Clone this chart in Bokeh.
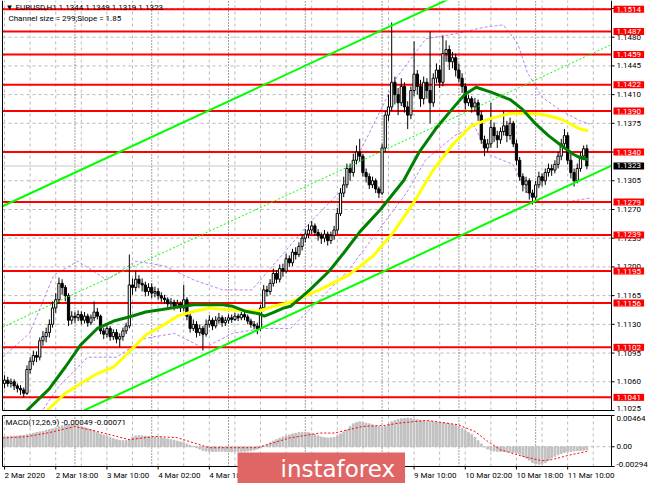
from bokeh.plotting import figure
from bokeh.layouts import column
from bokeh.models import Range1d, Label, ColumnDataSource
from bokeh.embed import file_html
from bokeh.resources import INLINE

FONT = "Roboto"

# ---------------- data ----------------
first_bar = 2
first_open = 1.1058
closes = [
    1.1062,1.1058,1.1060,1.1055,1.1052,1.1050,1.1046,1.1075,1.1085,1.1092,1.1090,1.1110,1.1115,1.1120,1.1130,1.1150,1.1160,1.1180,1.1175,1.1165,1.1135,1.1140,
    1.1138,1.1142,1.1135,1.1140,1.1132,1.1138,1.1145,1.1140,1.1122,1.1118,1.1125,1.1115,1.1120,1.1112,1.1115,1.1122,1.1128,1.1178,1.1175,1.1185,1.1180,1.1178,1.1170,1.1175,
    1.1168,1.1170,1.1165,1.1162,1.1160,1.1155,1.1157,1.1152,1.1155,1.1150,1.1160,1.1140,1.1125,1.1130,1.1120,1.1125,1.1118,1.1130,1.1135,1.1128,1.1135,1.1138,1.1132,1.1135,
    1.1138,1.1136,1.1140,1.1138,1.1142,1.1139,1.1134,1.1130,1.1128,1.1125,1.1150,1.1172,1.1170,1.1180,1.1192,1.1185,1.1198,1.1195,1.1210,1.1205,1.1218,1.1215,1.1225,1.1235,
    1.1240,1.1245,1.1250,1.1242,1.1238,1.1235,1.1240,1.1232,1.1238,1.1245,1.1265,1.1290,1.1300,1.1320,1.1315,1.1330,1.1340,1.1335,1.1315,1.1310,1.1300,1.1305,1.1295,1.1290,
    1.1345,1.1385,1.1395,1.1425,1.1410,1.1400,1.1420,1.1395,1.1385,1.1415,1.1435,1.1420,1.1405,1.1425,1.1415,1.1400,1.1430,1.1440,1.1425,1.1460,1.1465,1.1450,1.1455,1.1440,
    1.1430,1.1420,1.1400,1.1405,1.1395,1.1400,1.1385,1.1355,1.1345,1.1350,1.1370,1.1360,1.1355,1.1365,1.1372,1.1360,1.1375,1.1350,1.1330,1.1310,1.1300,1.1305,1.1290,1.1285,
    1.1300,1.1310,1.1305,1.1315,1.1320,1.1318,1.1325,1.1335,1.1350,1.1360,1.1330,1.1315,1.1305,1.1320,1.1335,1.1344,1.1323,
]
highs = [
    1.1068,1.1066,1.1064,1.1063,1.1058,1.1056,1.1053,1.1080,1.1090,1.1098,1.1097,1.1114,1.1122,1.1126,1.1136,1.1158,1.1168,1.1187,1.1185,1.1178,1.1168,1.1146,
    1.1145,1.1147,1.1146,1.1145,1.1143,1.1142,1.1158,1.1150,1.1142,1.1126,1.1130,1.1128,1.1124,1.1124,1.1119,1.1126,1.1132,1.1215,1.1186,1.1195,1.1190,1.1186,1.1182,1.1180,
    1.1180,1.1176,1.1174,1.1169,1.1166,1.1163,1.1162,1.1160,1.1160,1.1158,1.1178,1.1163,1.1144,1.1136,1.1134,1.1130,1.1128,1.1136,1.1141,1.1138,1.1140,1.1144,1.1141,1.1139,
    1.1142,1.1142,1.1144,1.1143,1.1146,1.1145,1.1142,1.1137,1.1134,1.1132,1.1154,1.1178,1.1177,1.1185,1.1198,1.1196,1.1203,1.1204,1.1216,1.1214,1.1222,1.1224,1.1230,1.1240,
    1.1246,1.1252,1.1256,1.1253,1.1246,1.1242,1.1245,1.1243,1.1243,1.1250,1.1272,1.1296,1.1310,1.1326,1.1326,1.1338,1.1348,1.1356,1.1338,1.1320,1.1314,1.1310,1.1308,1.1298,
    1.1350,1.1390,1.1410,1.1498,1.1432,1.1418,1.1430,1.1425,1.1402,1.1420,1.1475,1.1440,1.1428,1.1432,1.1430,1.1487,1.1436,1.1448,1.1446,1.1482,1.1476,1.1470,1.1462,1.1460,
    1.1448,1.1436,1.1424,1.1410,1.1408,1.1406,1.1404,1.1390,1.1360,1.1356,1.1400,1.1376,1.1366,1.1370,1.1390,1.1378,1.1382,1.1378,1.1355,1.1334,1.1314,1.1310,1.1308,1.1294,
    1.1305,1.1316,1.1314,1.1320,1.1326,1.1325,1.1330,1.1340,1.1356,1.1368,1.1364,1.1338,1.1320,1.1326,1.1340,1.1348,1.1349,
]
lows = [
    1.1052,1.1054,1.1053,1.1050,1.1047,1.1044,1.1041,1.1044,1.1070,1.1080,1.1084,1.1086,1.1104,1.1108,1.1114,1.1126,1.1144,1.1155,1.1166,1.1158,1.1128,1.1130,
    1.1132,1.1134,1.1130,1.1131,1.1127,1.1129,1.1134,1.1136,1.1118,1.1112,1.1114,1.1110,1.1111,1.1107,1.1102,1.1110,1.1118,1.1125,1.1166,1.1170,1.1174,1.1170,1.1164,1.1165,
    1.1162,1.1163,1.1160,1.1157,1.1155,1.1150,1.1151,1.1147,1.1149,1.1145,1.1146,1.1135,1.1120,1.1122,1.1114,1.1116,1.1098,1.1115,1.1126,1.1123,1.1125,1.1131,1.1127,1.1128,
    1.1131,1.1132,1.1134,1.1134,1.1135,1.1135,1.1130,1.1126,1.1124,1.1118,1.1122,1.1146,1.1164,1.1166,1.1176,1.1180,1.1181,1.1188,1.1192,1.1200,1.1201,1.1209,1.1212,1.1220,
    1.1230,1.1235,1.1240,1.1238,1.1232,1.1228,1.1230,1.1226,1.1228,1.1233,1.1240,1.1262,1.1285,1.1296,1.1305,1.1310,1.1325,1.1328,1.1310,1.1303,1.1295,1.1296,1.1290,1.1284,
    1.1288,1.1340,1.1378,1.1390,1.1398,1.1385,1.1396,1.1388,1.1368,1.1380,1.1408,1.1410,1.1395,1.1398,1.1405,1.1375,1.1395,1.1424,1.1418,1.1420,1.1450,1.1440,1.1442,1.1432,
    1.1425,1.1412,1.1392,1.1396,1.1388,1.1390,1.1378,1.1350,1.1335,1.1340,1.1345,1.1352,1.1345,1.1350,1.1360,1.1352,1.1355,1.1346,1.1324,1.1305,1.1292,1.1290,1.1282,1.1276,
    1.1280,1.1296,1.1298,1.1300,1.1310,1.1311,1.1314,1.1320,1.1330,1.1345,1.1325,1.1308,1.1298,1.1302,1.1316,1.1330,1.1319,
]

# moving averages (bar index, price)
green_ma_bar = [7.4,15.9,21,25.8,31,36.1,40.9,46.1,51.2,56,61.2,70.2,73.3,77.2,81.4,83.2,86.3,89.3,91.4,97.4,103.5,108,113.1,119.5,126.7,131.6,136.7,141.8,145.8,149.4,154,160,163.9,167.8,172,176,179.9,182,184.4]
green_ma = [1.1019,1.1051,1.1078,1.1105,1.1125,1.1134,1.1139,1.1145,1.1148,1.1151,1.1154,1.1154,1.1152,1.1146,1.1143,1.1140,1.1145,1.1150,1.1152,1.1172,1.1195,1.1217,1.1243,1.1270,1.1305,1.1340,1.1368,1.1392,1.1410,1.1419,1.1413,1.1404,1.1392,1.1375,1.1360,1.1348,1.1337,1.1333,1.1331]
yellow_ma_bar = [13.7,21,25.8,31,36.1,40,43.1,46.1,51.2,56,61.2,66.3,71.1,76.3,81.4,86.3,91.4,100.5,109.5,117.1,123.7,129.8,135.8,141.8,147.9,154,160,166,170,176,179.9,182,184.4]
yellow_ma = [1.1019,1.1046,1.1058,1.1070,1.1078,1.1093,1.1105,1.1117,1.1128,1.1140,1.1146,1.1150,1.1148,1.1147,1.1146,1.1152,1.1157,1.1172,1.1190,1.1213,1.1243,1.1278,1.1317,1.1348,1.1372,1.1381,1.1387,1.1387,1.1386,1.1380,1.1372,1.1368,1.1366]

# envelope (dotted violet bands)
band_up_bar = [1.4,9.8,17.4,24.9,34,43,52.1,61.2,70.2,79.3,88.4,97.4,106.5,115.6,124.6,133.7,142.7,151.8,157.9,162.4,165.4,170,176,182,185]
band_up = [1.1090,1.1119,1.1190,1.1207,1.1184,1.1207,1.1201,1.1184,1.1172,1.1172,1.1213,1.1254,1.1290,1.1360,1.1431,1.1478,1.1484,1.1492,1.1495,1.1472,1.1437,1.1407,1.1390,1.1378,1.1374]
band_dn_bar = [1.4,12.8,18.9,28,37,46,55.1,64.2,73.3,82.3,91.4,100.5,109.5,118.6,127.6,133.7,142.7,148.8,153.3,160.9,165.4,170,179,185]
band_dn = [1.1007,1.1019,1.1054,1.1090,1.1090,1.1113,1.1119,1.1101,1.1119,1.1125,1.1125,1.1160,1.1196,1.1243,1.1290,1.1331,1.1360,1.1372,1.1337,1.1325,1.1290,1.1278,1.1280,1.1284]

# linear regression channel
channel_price_at_bar0 = 1.12715
channel_slope = 0.000181
channel_width = 0.0295

levels = [1.1514, 1.1487, 1.1459, 1.1422, 1.1390, 1.1340, 1.1279, 1.1239, 1.1195, 1.1156, 1.1102, 1.1041]
bid = 1.1323
price_ticks = [1.1025, 1.1060, 1.1095, 1.1130, 1.1165, 1.1200, 1.1235, 1.1270, 1.1305, 1.1340, 1.1375, 1.1410, 1.1445, 1.1480, 1.1515]
price_min, price_max = 1.1025, 1.15247

# MACD (x 1e-5)
macd_hist = [
    150,152,155,158,160,165,170,180,190,200,210,220,230,245,255,265,280,295,310,320,328,330,
    325,315,300,285,270,255,235,215,190,175,160,140,120,105,95,90,92,110,140,160,165,163,158,150,
    148,145,140,135,125,115,105,95,85,70,60,40,20,5,-15,-35,-55,-65,-70,-72,-70,-68,-70,-72,
    -75,-78,-75,-72,-70,-68,-65,-60,-50,-35,-15,10,30,60,85,105,125,145,160,175,190,200,210,215,
    215,210,200,180,160,145,135,130,132,140,160,190,220,250,300,340,360,370,365,350,340,325,310,300,
    290,300,330,370,390,405,415,420,425,420,410,400,390,385,380,375,370,365,360,355,350,340,330,320,
    300,270,240,210,180,140,90,40,0,-35,-55,-65,-70,-70,-72,-75,-80,-85,-90,-110,-140,-170,-200,-235,
    -255,-262,-255,-235,-200,-170,-145,-120,-100,-85,-75,-70,-65,-60,-58,-52,-49,
]
signal_bar = [1.4,9,16,24,31,41,49,56,61,66,81,91,100.5,105,114,121,125.5,134,143.7,149,153,157,164,170,173,179,184]
signal = [129,150,210,300,227,104,153,134,59,-15,-15,129,203,203,302,317,352,391,327,227,79,-45,-144,-208,-193,-119,-71]
macd_top, macd_bottom = 464, -294
macd_labels = ["0.00464", "0.00", "-0.00294"]

time_tick_bars = [2, 18, 34, 50, 66, 82, 98, 114, 130, 146, 162, 178]
time_tick_labels = ["2 Mar 2020", "2 Mar 18:00", "3 Mar 10:00", "4 Mar 02:00", "4 Mar 18:00", "5 Mar 10:00",
                    "6 Mar 02:00", "6 Mar 18:00", "9 Mar 10:00", "10 Mar 02:00", "10 Mar 18:00", "11 Mar 10:00"]
day_start_bars = [24, 48, 72, 96, 120, 144, 168]
grid_bars = list(range(2, 192, 8))

# ---------------- layout constants (pixels) ----------------
W = 649
PANEL_L, PANEL_R = 2, 611
X0, X1 = 1.36, 191.7
BPX = (X1 - X0) / (PANEL_R - PANEL_L)
XA, XB = X0 - PANEL_L * BPX, X1 + (W - PANEL_R) * BPX
MAIN_H, MAIN_PANEL_H = 411, 410
MACD_H, MACD_GAP, MACD_PANEL_H = 72, 4, 51
PPX = (price_max - price_min) / MAIN_PANEL_H
MPX = (macd_top - macd_bottom) / MACD_PANEL_H

GRID = dict(line_color="#B8B8B8", line_dash="3 3", line_width=1)
SEP = dict(line_color="#404040", line_dash="1 2", line_width=1)
TXT = dict(text_font=FONT, text_font_size="8px", text_color="black")

xr = Range1d(XA, XB)

# ---------------- main price panel ----------------
bars = list(range(first_bar, first_bar + len(closes)))
opens = [first_open] + closes[:-1]
src = ColumnDataSource(dict(
    bar=bars, high=highs, low=lows,
    top=[max(o, c) for o, c in zip(opens, closes)],
    bottom=[min(o, c) for o, c in zip(opens, closes)],
    fill=["white" if c >= o else "black" for o, c in zip(opens, closes)],
))

p = figure(width=W, height=MAIN_H, x_range=xr,
           y_range=Range1d(price_min - (MAIN_H - MAIN_PANEL_H) * PPX, price_max),
           output_backend="svg", toolbar_location=None, x_axis_location=None, y_axis_location=None,
           min_border=0, outline_line_color=None)
p.xgrid.visible = False
p.ygrid.visible = False

p.segment(x0=X0, x1=X1, y0=price_ticks, y1=price_ticks, **GRID)
p.segment(x0=grid_bars, x1=grid_bars, y0=price_min, y1=price_max, **GRID)
p.segment(x0=day_start_bars, x1=day_start_bars, y0=price_min, y1=price_max, **SEP)
p.segment(x0=X0, x1=X1, y0=bid, y1=bid, line_color="#C8C8C8", line_width=1)

p.line(band_up_bar, band_up, line_color="#C080F0", line_dash="3 2", line_width=1)
p.line(band_dn_bar, band_dn, line_color="#C080F0", line_dash="3 2", line_width=1)

p.segment(x0=X0, x1=X1, y0=levels, y1=levels, line_color="#FF0000", line_width=2)

p.segment(x0="bar", y0="low", x1="bar", y1="high", source=src, line_color="black", line_width=1)
p.vbar(x="bar", width=0.7, top="top", bottom="bottom", fill_color="fill", line_color="black", line_width=1, source=src)

p.line(yellow_ma_bar, yellow_ma, line_color="#FFFF00", line_width=3)
p.line(green_ma_bar, green_ma, line_color="#008000", line_width=3)

cx = [X0, X1]
up_line = [channel_price_at_bar0 + channel_slope * b for b in cx]
p.line(cx, up_line, line_color="#00FF00", line_width=2)
p.line(cx, [v - channel_width for v in up_line], line_color="#00FF00", line_width=2)
p.line(cx, [v - channel_width / 2 for v in up_line], line_color="#00FF00", line_width=1, line_dash="2 2")

p.segment(x0=[X0, X1, X0], x1=[X0, X1, X1], y0=[price_min, price_min, price_min], y1=[price_max, price_max, price_min],
          line_color="black", line_width=1)
p.segment(x0=X1, x1=X1 + 3 * BPX, y0=price_ticks, y1=price_ticks, line_color="black", line_width=1)
for t in price_ticks:
    p.add_layout(Label(x=X1, y=t, x_offset=5, text=f"{t:.4f}", text_align="left",
                       text_baseline="bottom" if t == price_min else "middle", **TXT))
for lv in levels:
    p.add_layout(Label(x=X1, y=lv, x_offset=2, text=f"{lv:.4f}", text_color="white", text_font=FONT,
                       text_font_size="8px", text_baseline="middle", text_align="left",
                       background_fill_color="#FF0000", padding=dict(left=3, right=3, top=1, bottom=1)))
p.add_layout(Label(x=X1, y=bid, x_offset=2, text=f"{bid:.4f}", text_color="white", text_font=FONT,
                   text_font_size="8px", text_baseline="middle", text_align="left",
                   background_fill_color="black", padding=dict(left=3, right=3, top=1, bottom=1)))

p.add_layout(Label(x=5, y=MAIN_H - 2, x_units="screen", y_units="screen",
                   text="\u25bc EURUSD,H1  1.1344 1.1349 1.1319 1.1323", text_baseline="top", **TXT))
p.add_layout(Label(x=8, y=MAIN_H - 13, x_units="screen", y_units="screen",
                   text="Channel size = 299;Slope = 1.85", text_baseline="top", **TXT))

# ---------------- MACD panel ----------------
m_bottom_px = MACD_H - MACD_GAP - MACD_PANEL_H
m = figure(width=W, height=MACD_H, x_range=xr,
           y_range=Range1d(macd_bottom - m_bottom_px * MPX, macd_top + MACD_GAP * MPX),
           output_backend="svg", toolbar_location=None, x_axis_location=None, y_axis_location=None,
           min_border=0, outline_line_color=None)
m.xgrid.visible = False
m.ygrid.visible = False
m.segment(x0=grid_bars, x1=grid_bars, y0=macd_bottom, y1=macd_top, **GRID)
m.segment(x0=X0, x1=X1, y0=0, y1=0, **GRID)
m.segment(x0=day_start_bars, x1=day_start_bars, y0=macd_bottom, y1=macd_top, **SEP)

m.vbar(x=bars, top=macd_hist, bottom=0, width=0.55, fill_color="#C0C0C0", line_color="#C0C0C0")
m.line(signal_bar, signal, line_color="#FF0000", line_dash="2 2", line_width=1)

m.segment(x0=[X0, X1, X0, X0], x1=[X0, X1, X1, X1], y0=[macd_bottom, macd_bottom, macd_bottom, macd_top],
          y1=[macd_top, macd_top, macd_bottom, macd_top], line_color="black", line_width=1)
m.segment(x0=X1, x1=X1 + 3 * BPX, y0=[macd_top, 0, macd_bottom], y1=[macd_top, 0, macd_bottom], line_color="black")
for val, txt, base in zip([macd_top, 0, macd_bottom], macd_labels, ["top", "middle", "bottom"]):
    m.add_layout(Label(x=X1, y=val, x_offset=5, text=txt, text_align="left", text_baseline=base, **TXT))
m.add_layout(Label(x=5, y=MACD_H - MACD_GAP - 2, x_units="screen", y_units="screen",
                   text="MACD(12,26,9) -0.00049 -0.00071", text_baseline="top", **TXT))

m.segment(x0=time_tick_bars, x1=time_tick_bars, y0=macd_bottom, y1=macd_bottom - 3 * MPX, line_color="black")
for b, t in zip(time_tick_bars, time_tick_labels):
    m.add_layout(Label(x=b, y=macd_bottom, y_offset=-4, text=t, text_align="left", text_baseline="top", **TXT))

# watermark
m.add_layout(Label(x=237, y=0, x_units="screen", y_units="screen", text="instaforex",
                   text_font="DejaVu Sans", text_font_size="23px", text_color="white",
                   text_baseline="bottom", text_align="left",
                   background_fill_color="#E06666",
                   padding=dict(left=43, right=10, top=3, bottom=2)))

out = column(p, m)
open("out.html", "w").write(file_html(out, INLINE))
